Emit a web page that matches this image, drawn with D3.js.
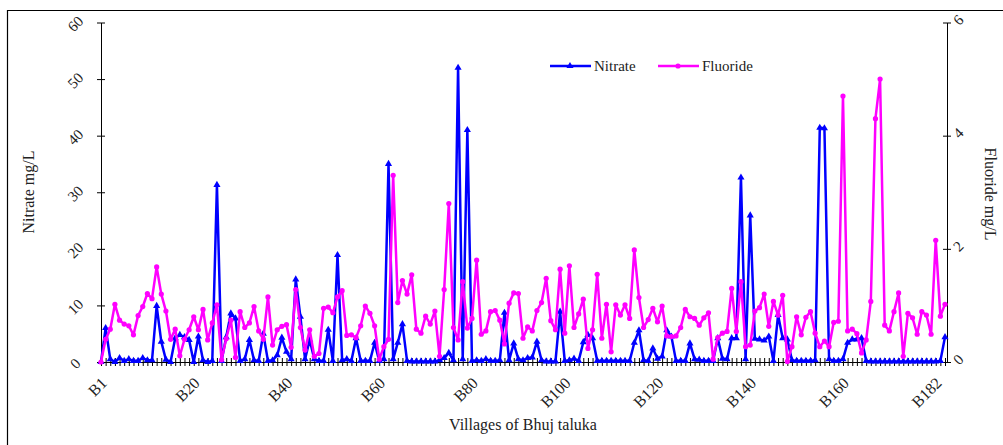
<!DOCTYPE html>
<meta charset="utf-8">
<script src="https://d3js.org/d3.v7.min.js"></script>
<style>
  body { margin: 0; background: #fff; }
  text { font-family: "Liberation Serif", "Times New Roman", serif; fill: #222; }
</style>
<div id="chart"></div>
<script>
// villages B1..B183 along the category axis
var villages = d3.range(1, 184).map(i => "B" + i);
// which categories carry a label, and what the label reads
var labelAt   = ["B1", "B21", "B41", "B61", "B81", "B101", "B121", "B141", "B161", "B181"];
var labelText = ["B1", "B20", "B40", "B60", "B80", "B100", "B120", "B140", "B160", "B182"];

var nitrateTicks  = [0, 10, 20, 30, 40, 50, 60];
var fluorideTicks = [0, 2, 4, 6];

// Nitrate mg/L
var nitrate = [
  0, 6, 0.5, 0, 0.7, 0.2, 0.5, 0.2, 0.2, 0.7,
  0.3, 0.3, 9.9, 3.6, 0.4, 0, 4.2, 4.8, 4.4, 3.9,
  0, 4.5, 0.3, 0, 0.2, 31.3, 0.2, 4.4, 8.6, 7.7,
  0.2, 0.5, 3.9, 0.3, 0.2, 5, 0.2, 0.3, 1.2, 4.3,
  1.8, 0.5, 14.6, 8, 0.5, 3.9, 0.5, 0.2, 0.2, 5.7,
  0.2, 18.9, 0.3, 0.5, 0.2, 4.2, 0.2, 0.2, 0.2, 3.4,
  0.2, 0.5, 35, 0.5, 3.4, 6.7, 0.2, 0.1, 0.1, 0.1,
  0.1, 0.1, 0.1, 0.3, 0.7, 1.6, 0.3, 52, 0.5, 41,
  0.2, 0.3, 0.2, 0.5, 0.2, 0.2, 0.3, 8.7, 0.3, 3.3,
  0.5, 0.3, 0.7, 0.8, 3.6, 0.3, 0.1, 0.1, 0.1, 8.9,
  0.2, 0.3, 0.6, 0.2, 3.5, 4.8, 4.2, 0.2, 0.2, 0.2,
  0.2, 0.2, 0.2, 0.2, 0.2, 3.4, 5.6, 0.3, 0.2, 2.4,
  0.6, 1, 5.6, 4.5, 0.2, 0.2, 0.2, 3.3, 0.5, 0.4,
  0.2, 0.2, 0.2, 4.2, 0.6, 0.5, 4.2, 4.2, 32.6, 0.5,
  25.9, 4.1, 4, 3.8, 4.5, 0.2, 8.3, 4.2, 4, 0.3,
  0.2, 0.2, 0.2, 0.2, 0.3, 41.4, 41.3, 0.5, 0.2, 0.2,
  0.5, 3.4, 4, 4, 4.2, 0.2, 0.1, 0.1, 0.1, 0.1,
  0.1, 0.1, 0.1, 0.1, 0.1, 0.1, 0.1, 0.1, 0.1, 0.1,
  0.1, 0.2, 4.4
];

// Fluoride mg/L
var fluoride = [
  0, 0.40, 0.58, 1.02, 0.74, 0.67, 0.64, 0.48, 0.82, 0.98,
  1.21, 1.12, 1.68, 1.20, 0.90, 0.40, 0.58, 0.11, 0.40, 0.57,
  0.80, 0.57, 0.93, 0.39, 0.69, 1.01, 0.04, 0.41, 0.74, 0.08,
  0.89, 0.61, 0.69, 0.98, 0.55, 0.40, 1.15, 0.30, 0.57, 0.63,
  0.66, 0.26, 1.28, 0.61, 0.21, 0.57, 0.10, 0.15, 0.95, 0.97,
  0.87, 1.15, 1.26, 0.47, 0.48, 0.43, 0.64, 0.99, 0.86, 0.64,
  0.05, 0.27, 0.40, 3.30, 1.05, 1.44, 1.20, 1.54, 0.58, 0.51,
  0.81, 0.67, 0.90, 0.10, 1.28, 2.80, 0.61, 0.39, 1.42, 0.60,
  0.77, 1.80, 0.49, 0.55, 0.89, 0.91, 0.74, 0.32, 1.04, 1.22,
  1.21, 0.42, 0.62, 0.55, 0.91, 1.05, 1.48, 0.73, 0.57, 1.64,
  0.51, 1.70, 0.61, 0.85, 1.11, 0.24, 0.57, 1.55, 0.42, 1.02,
  0.18, 1.01, 0.83, 1.01, 0.77, 1.98, 1.14, 0.61, 0.75, 0.95,
  0.71, 0.99, 0.46, 0.45, 0.46, 0.61, 0.93, 0.80, 0.77, 0.65,
  0.78, 0.87, 0.05, 0.43, 0.51, 0.54, 1.30, 0.54, 1.42, 0.27,
  0.30, 0.90, 0.96, 1.20, 0.63, 1.07, 0.83, 1.18, 0.01, 0.27,
  0.80, 0.48, 0.79, 0.89, 0.51, 0.27, 0.37, 0.27, 0.70, 0.72,
  4.70, 0.55, 0.58, 0.50, 0.16, 0.39, 1.07, 4.30, 5.00, 0.65,
  0.55, 0.89, 1.22, 0.10, 0.86, 0.78, 0.49, 0.89, 0.83, 0.49,
  2.15, 0.81, 1.02
];

var W = 1003, H = 445;
var plotLeft = 101, plotRight = 947, plotTop = 22.5, plotBottom = 362;

var svg = d3.select("#chart").append("svg")
  .attr("width", W)
  .attr("height", H);

// outer frame
svg.append("path")
  .attr("d", "M7.5," + H + "V10.5H" + W)
  .attr("fill", "none")
  .attr("stroke", "#000")
  .attr("stroke-width", 1.2);

var x = d3.scalePoint().domain(villages).range([plotLeft, 945]);
var yN = d3.scaleLinear().domain([0, 60]).range([plotBottom, plotTop]);
var yF = d3.scaleLinear().domain([0, 6]).range([plotBottom, plotTop]);

// left axis, ticks crossing the line
var gl = svg.append("g").attr("transform", "translate(" + plotLeft + ",0)");
gl.call(d3.axisLeft(yN).tickValues(nitrateTicks).tickSize(4).tickSizeOuter(0).tickFormat(""));
gl.append("g").call(d3.axisRight(yN).tickValues(nitrateTicks).tickSize(4).tickSizeOuter(0).tickFormat(""));
gl.selectAll("text.lab")
  .data(nitrateTicks)
  .enter().append("text")
  .attr("class", "lab")
  .attr("text-anchor", "middle")
  .attr("font-size", 15)
  .attr("transform", d => "translate(-22," + (yN(d) + 5) + ") rotate(-45)")
  .text(d => d);

// right axis
var gr = svg.append("g").attr("transform", "translate(" + plotRight + ",0)");
gr.call(d3.axisRight(yF).tickValues(fluorideTicks).tickSize(4).tickSizeOuter(0).tickFormat(""));
gr.append("g").call(d3.axisLeft(yF).tickValues(fluorideTicks).tickSize(4).tickSizeOuter(0).tickFormat(""));
gr.selectAll("text.lab")
  .data(fluorideTicks)
  .enter().append("text")
  .attr("class", "lab")
  .attr("text-anchor", "middle")
  .attr("font-size", 15)
  .attr("transform", d => "translate(15," + (yF(d) + 1) + ") rotate(-45)")
  .text(d => d);

// bottom axis with a cross tick at every village
var gb = svg.append("g").attr("transform", "translate(0," + plotBottom + ")");
gb.call(d3.axisBottom(x).tickSize(4).tickSizeOuter(0).tickFormat(""));
gb.append("g").call(d3.axisTop(x).tickSize(4).tickSizeOuter(0).tickFormat(""));
gb.selectAll(".domain").attr("d", "M" + plotLeft + ",0.5H" + plotRight);
gb.selectAll("text.xl")
  .data(labelAt)
  .enter().append("text")
  .attr("class", "xl")
  .attr("text-anchor", "end")
  .attr("font-size", 16)
  .attr("transform", d => "translate(" + (x(d) + 7) + ",22) rotate(-45)")
  .text((d, i) => labelText[i]);

svg.selectAll(".domain, .tick line").attr("stroke", "#000");

// axis titles
svg.append("text")
  .attr("text-anchor", "middle")
  .attr("font-size", 16)
  .attr("transform", "translate(34,192) rotate(-90)")
  .text("Nitrate mg/L");

svg.append("text")
  .attr("text-anchor", "middle")
  .attr("font-size", 16)
  .attr("transform", "translate(985,194) rotate(90)")
  .text("Fluoride mg/L");

svg.append("text")
  .attr("text-anchor", "middle")
  .attr("font-size", 16)
  .attr("x", 523)
  .attr("y", 430)
  .text("Villages of Bhuj taluka");

// series
var lineN = d3.line().x((d, i) => x(villages[i])).y(d => yN(d));
var lineF = d3.line().x((d, i) => x(villages[i])).y(d => yF(d));
var tri = d3.symbol(d3.symbolTriangle).size(22);

svg.append("path")
  .datum(nitrate)
  .attr("fill", "none")
  .attr("stroke", "#0000ff")
  .attr("stroke-width", 2.5)
  .attr("stroke-linejoin", "round")
  .attr("d", lineN);

svg.selectAll("path.nm")
  .data(nitrate)
  .enter().append("path")
  .attr("class", "nm")
  .attr("fill", "#0000ff")
  .attr("d", tri)
  .attr("transform", (d, i) => "translate(" + x(villages[i]) + "," + yN(d) + ")");

svg.append("path")
  .datum(fluoride)
  .attr("fill", "none")
  .attr("stroke", "#ff00ff")
  .attr("stroke-width", 2.5)
  .attr("stroke-linejoin", "round")
  .attr("d", lineF);

svg.selectAll("circle.fm")
  .data(fluoride)
  .enter().append("circle")
  .attr("class", "fm")
  .attr("fill", "#ff00ff")
  .attr("r", 2.6)
  .attr("cx", (d, i) => x(villages[i]))
  .attr("cy", d => yF(d));

// legend
var legend = [
  {name: "Nitrate", color: "#0000ff", x: 550},
  {name: "Fluoride", color: "#ff00ff", x: 658}
];
var lg = svg.selectAll("g.legend")
  .data(legend)
  .enter().append("g")
  .attr("class", "legend")
  .attr("transform", d => "translate(" + d.x + ",66)");
lg.append("line")
  .attr("x1", 0).attr("x2", 41)
  .attr("stroke", d => d.color)
  .attr("stroke-width", 2.5);
lg.filter(d => d.name == "Nitrate").append("path")
  .attr("d", tri)
  .attr("fill", d => d.color)
  .attr("transform", "translate(20,0)");
lg.filter(d => d.name == "Fluoride").append("circle")
  .attr("r", 2.6)
  .attr("cx", 20)
  .attr("fill", d => d.color);
lg.append("text")
  .attr("x", 44)
  .attr("y", 5)
  .attr("font-size", 15)
  .text(d => d.name);
</script>
